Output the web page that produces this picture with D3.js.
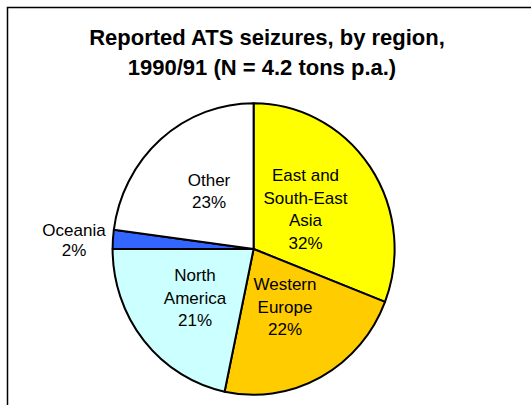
<!DOCTYPE html>
<html>
<head>
<meta charset="utf-8">
<script src="https://cdn.jsdelivr.net/npm/d3@7"></script>
<style>
  html, body { margin: 0; padding: 0; background: #fff; }
  svg { display: block; font-family: Arial, "Liberation Sans", sans-serif; }
</style>
</head>
<body>
<svg id="chart" width="531" height="405"></svg>
<script>
// Data (clockwise from 12 o'clock)
const categories = ["East and South-East Asia", "Western Europe", "North America", "Oceania", "Other"];
const values = [30.9, 22.4, 21.7, 2.1, 22.9];
const percentLabels = ["32%", "22%", "21%", "2%", "23%"];
const labelLines = [["East and", "South-East", "Asia"], ["Western", "Europe"], ["North", "America"], ["Oceania"], ["Other"]];
const colors = ["#ffff00", "#ffcc00", "#ccffff", "#3366ff", "#ffffff"];
const titleLines = ["Reported ATS seizures, by region,", "1990/91 (N = 4.2 tons p.a.)"];

const svg = d3.select("#chart");

// frame
svg.append("rect")
  .attr("x", 7.5).attr("y", 7.5)
  .attr("width", 700).attr("height", 700)
  .attr("fill", "#fff").attr("stroke", "#000").attr("stroke-width", 1.5);

// title
const titleX = [267, 262];
svg.append("g").selectAll("text").data(titleLines).join("text")
  .attr("x", (d, i) => titleX[i])
  .attr("y", (d, i) => 45 + i * 29.5)
  .attr("text-anchor", "middle")
  .attr("font-size", "22px")
  .attr("font-weight", "bold")
  .attr("fill", "#000")
  .text(d => d);

// pie (slightly elliptical)
const cx = 253.6, cy = 249, rx = 141, ry = 145.8;
const pie = d3.pie().sort(null).value(d => d)
  .startAngle(0).endAngle(2 * Math.PI);
const arcs = pie(values);
const arc = d3.arc().innerRadius(0).outerRadius(rx);

const g = svg.append("g")
  .attr("transform", `translate(${cx},${cy}) scale(1,${ry / rx})`);
g.selectAll("path").data(arcs).join("path")
  .attr("d", arc)
  .attr("fill", (d, i) => colors[i])
  .attr("stroke", "#000")
  .attr("stroke-width", 2)
  .attr("stroke-linejoin", "round")
  .attr("vector-effect", "non-scaling-stroke");

// labels: anchor (center x, first baseline)
const labelPos = [
  {x: 305.5, y: 181},
  {x: 285, y: 290},
  {x: 195, y: 281},
  {x: 74, y: 235.5},
  {x: 209, y: 185.5}
];
const lineH = 22.5;
const lg = svg.append("g");
arcs.forEach((a, i) => {
  const lines = labelLines[i].concat([percentLabels[i]]);
  const t = lg.append("text")
    .attr("text-anchor", "middle")
    .attr("font-size", "17px")
    .attr("fill", "#000");
  lines.forEach((ln, j) => {
    t.append("tspan")
      .attr("x", labelPos[i].x)
      .attr("y", labelPos[i].y + j * (i === 3 ? 20 : lineH))
      .text(ln);
  });
});
</script>
</body>
</html>
